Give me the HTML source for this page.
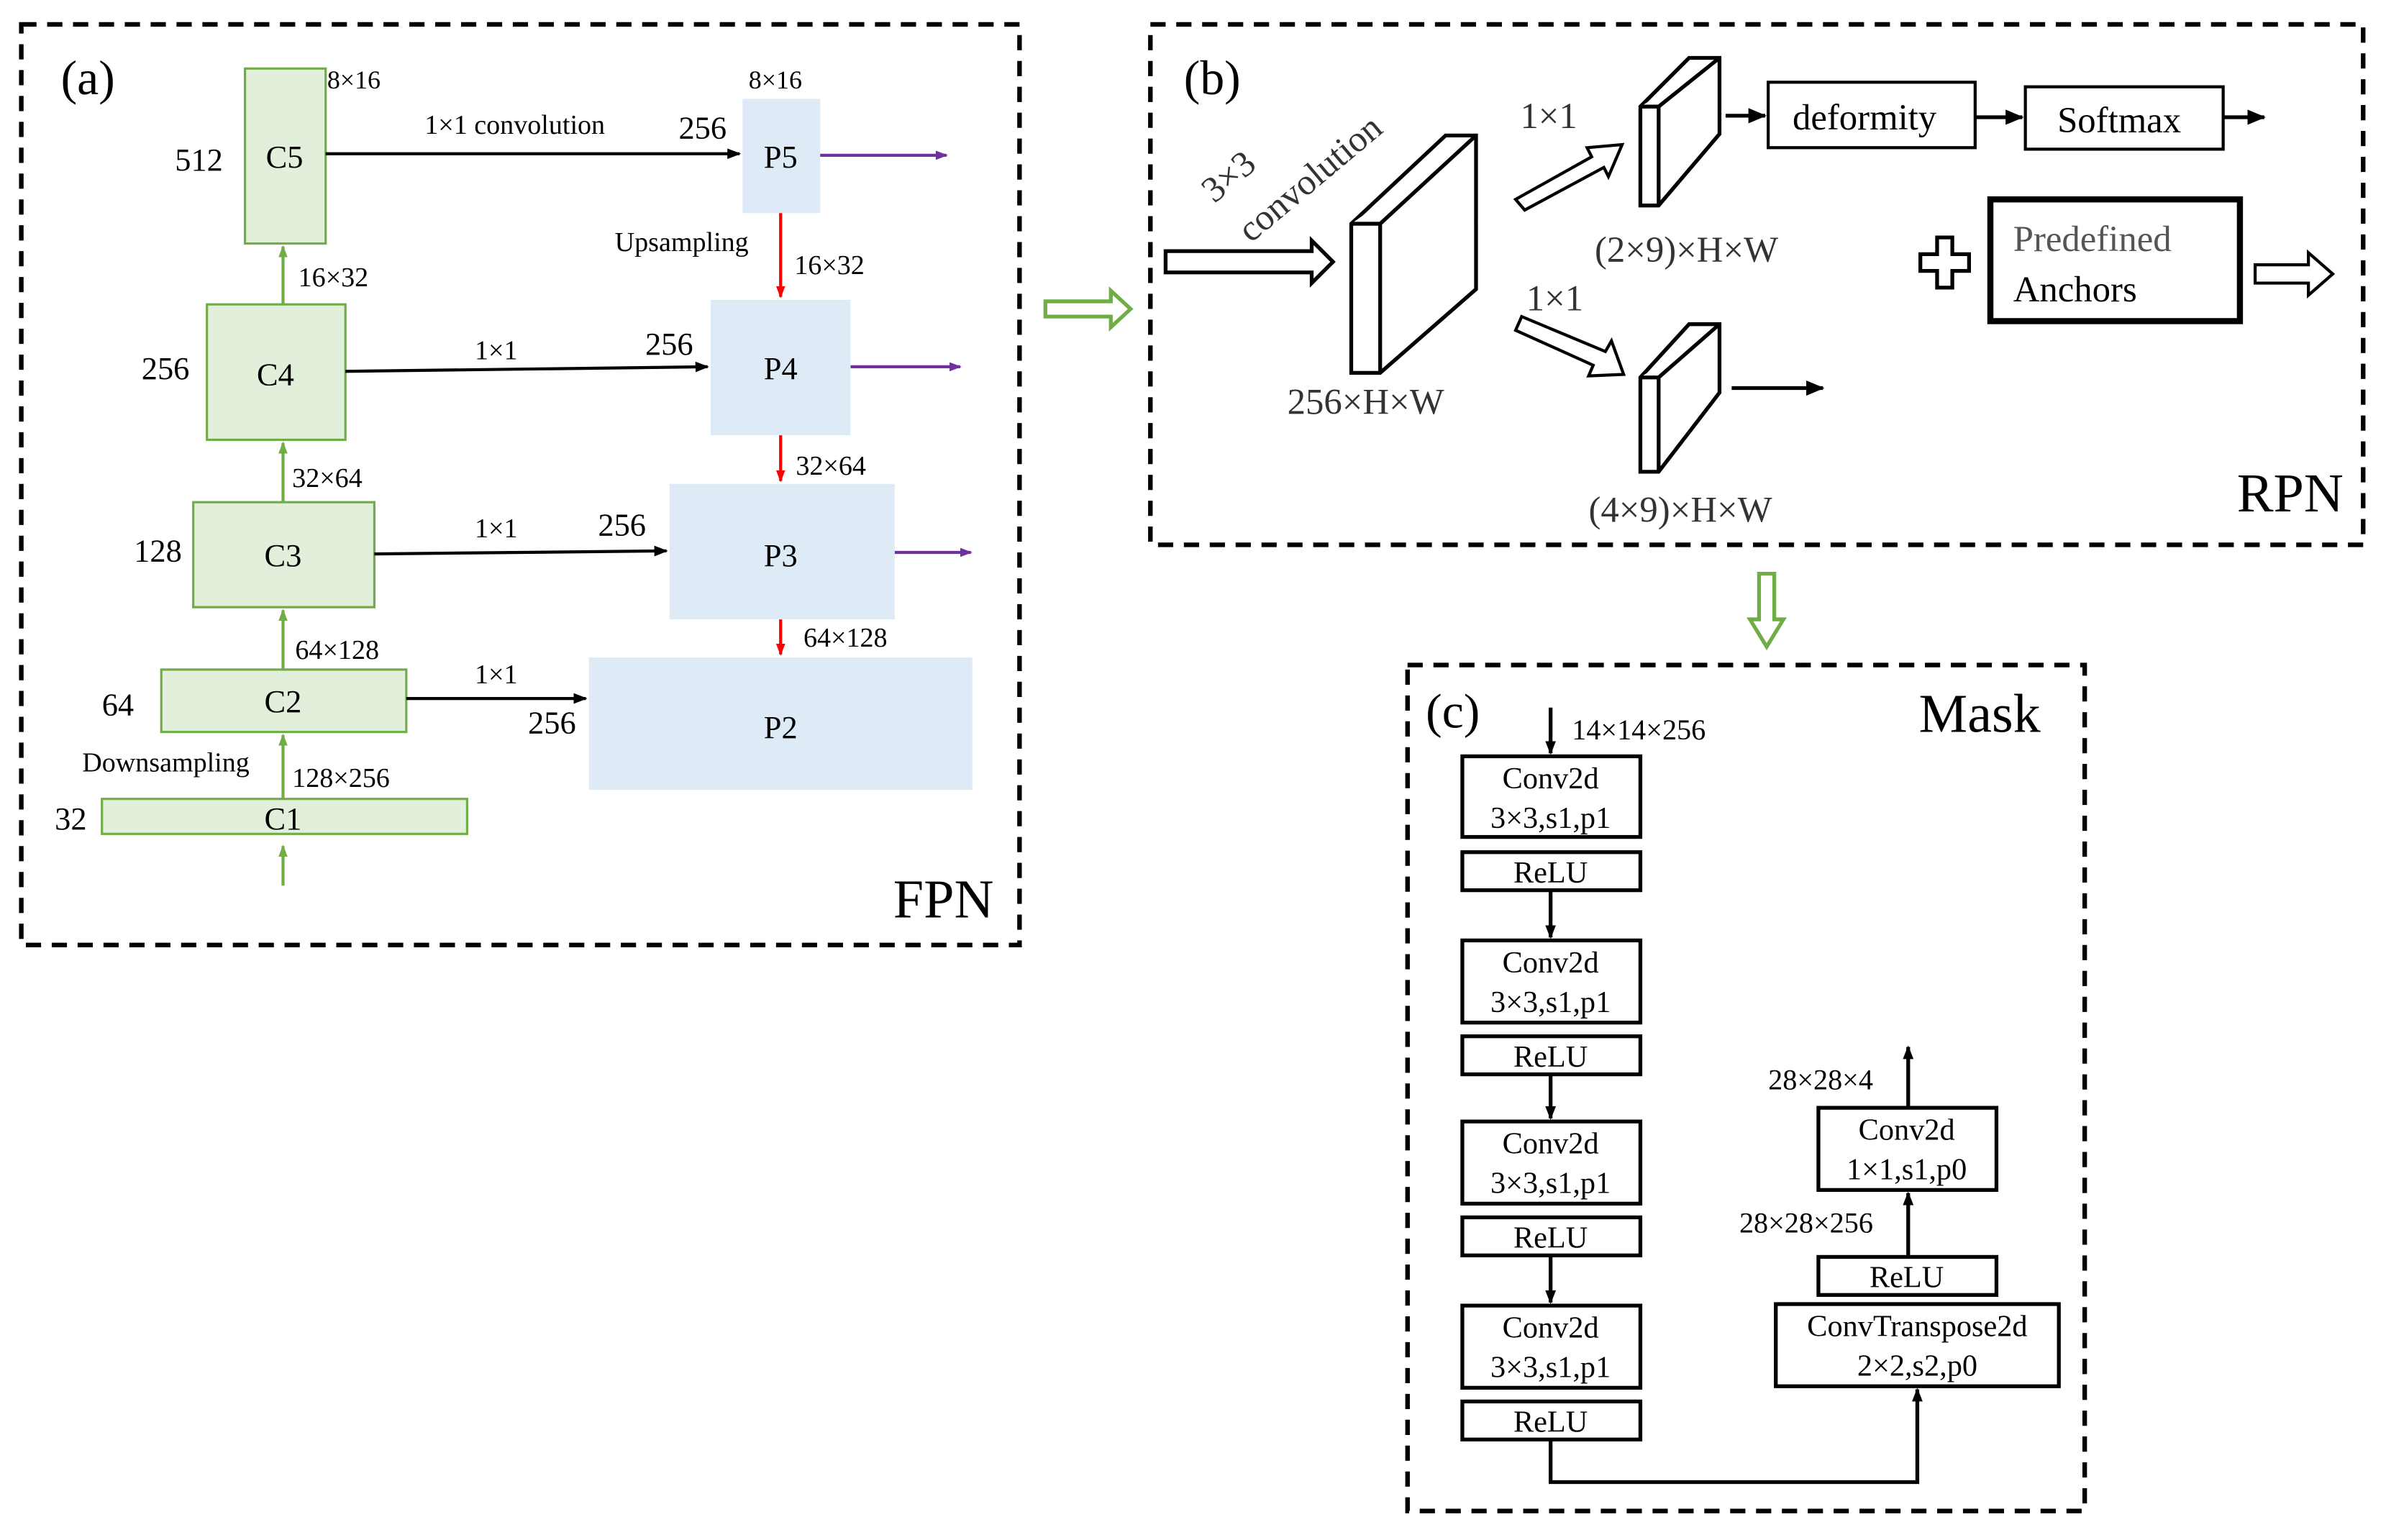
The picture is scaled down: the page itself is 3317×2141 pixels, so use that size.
<!DOCTYPE html>
<html><head><meta charset="utf-8"><style>html,body{margin:0;padding:0;background:#fff}svg{display:block}svg text{font-family:"Times New Roman","Liberation Serif",Times,serif !important}</style></head>
<body>
<svg width="3317" height="2141" viewBox="0 0 1568 1012" xmlns="http://www.w3.org/2000/svg">
<defs>
<marker id="ak" markerWidth="9" markerHeight="9" refX="8" refY="4.5" orient="auto" markerUnits="userSpaceOnUse"><path d="M0,1 L9,4.5 L0,8 z" fill="#000"/></marker>
<marker id="ar" markerWidth="8" markerHeight="8" refX="7" refY="4" orient="auto" markerUnits="userSpaceOnUse"><path d="M0,1 L8,4 L0,7 z" fill="#f00"/></marker>
<marker id="ag" markerWidth="8" markerHeight="8" refX="7" refY="4" orient="auto" markerUnits="userSpaceOnUse"><path d="M0,1 L8,4 L0,7 z" fill="#70ad47"/></marker>
<marker id="ap" markerWidth="8" markerHeight="8" refX="7" refY="4" orient="auto" markerUnits="userSpaceOnUse"><path d="M0,1 L8,4 L0,7 z" fill="#7030a0"/></marker>
<marker id="ab" markerWidth="12" markerHeight="12" refX="11" refY="6" orient="auto" markerUnits="userSpaceOnUse"><path d="M0,1 L12,6 L0,11 z" fill="#000"/></marker>
</defs>
<g fill="none" stroke="#000" stroke-width="3" stroke-dasharray="10,7">
<rect x="14" y="16" width="656" height="605"/>
<rect x="756" y="16" width="797" height="342"/>
<rect x="925" y="437" width="445" height="556"/>
</g>
<g fill="#e2efda" stroke="#70ad47" stroke-width="1.5">
<rect x="161" y="45" width="53" height="115"/>
<rect x="136" y="200" width="91" height="89"/>
<rect x="127" y="330" width="119" height="69"/>
<rect x="106" y="440" width="161" height="41"/>
<rect x="67" y="525" width="240" height="23"/>
</g>
<g fill="#deebf7">
<rect x="488" y="65" width="51" height="75"/>
<rect x="467" y="197" width="92" height="89"/>
<rect x="440" y="318" width="148" height="89"/>
<rect x="387" y="432" width="252" height="87"/>
</g>
<g stroke="#70ad47" stroke-width="2" marker-end="url(#ag)">
<line x1="186" y1="200" x2="186" y2="162"/>
<line x1="186" y1="330" x2="186" y2="291"/>
<line x1="186" y1="440" x2="186" y2="401"/>
<line x1="186" y1="525" x2="186" y2="483"/>
<line x1="186" y1="582" x2="186" y2="556"/>
</g>
<g stroke="#000" stroke-width="2" marker-end="url(#ak)">
<line x1="214" y1="101" x2="486" y2="101"/>
<line x1="227" y1="244" x2="465" y2="241"/>
<line x1="246" y1="364" x2="438" y2="362"/>
<line x1="267" y1="459" x2="385" y2="459"/>
</g>
<g stroke="#f00" stroke-width="2" marker-end="url(#ar)">
<line x1="513" y1="140" x2="513" y2="195"/>
<line x1="513" y1="286" x2="513" y2="316"/>
<line x1="513" y1="407" x2="513" y2="430"/>
</g>
<g stroke="#7030a0" stroke-width="2" marker-end="url(#ap)">
<line x1="539" y1="102" x2="622" y2="102"/>
<line x1="559" y1="241" x2="631" y2="241"/>
<line x1="588" y1="363" x2="638" y2="363"/>
</g>
<g font-size="21" fill="#000" text-anchor="middle">
<text x="187" y="110">C5</text><text x="181" y="253">C4</text><text x="186" y="372">C3</text>
<text x="186" y="468">C2</text><text x="186" y="545">C1</text>
<text x="513" y="110">P5</text><text x="513" y="249">P4</text><text x="513" y="372">P3</text><text x="513" y="485">P2</text>
</g>
<g font-size="18" fill="#000">
<text x="40" y="62" font-size="32">(a)</text>
<text x="587" y="603" font-size="36">FPN</text>
<text x="115" y="112" font-size="21">512</text><text x="93" y="249" font-size="21">256</text>
<text x="88" y="369" font-size="21">128</text><text x="67" y="470" font-size="21">64</text><text x="36" y="545" font-size="21">32</text>
<text x="215" y="58" font-size="17">8×16</text><text x="492" y="58" font-size="17">8×16</text>
<text x="279" y="88">1×1 convolution</text><text x="446" y="91" font-size="21">256</text>
<text x="196" y="188">16×32</text><text x="404" y="165">Upsampling</text><text x="522" y="180">16×32</text>
<text x="312" y="236">1×1</text><text x="424" y="233" font-size="21">256</text>
<text x="192" y="320">32×64</text><text x="523" y="312">32×64</text>
<text x="312" y="353">1×1</text><text x="393" y="352" font-size="21">256</text>
<text x="194" y="433">64×128</text><text x="528" y="425">64×128</text>
<text x="312" y="449">1×1</text><text x="347" y="482" font-size="21">256</text>
<text x="54" y="507">Downsampling</text><text x="192" y="517">128×256</text>
</g>
<g fill="#fff" stroke="#70ad47" stroke-width="2.5">
<path d="M687,198 L730,198 L730,191 L743,203 L730,215 L730,208 L687,208 z"/>
<path d="M1156,377 L1166,377 L1166,407 L1172,407 L1161,425 L1150,407 L1156,407 z"/>
</g>
<g fill="#fff" stroke="#000" stroke-width="2.5">
<path d="M766,165 L862,165 L862,158 L876,172 L862,186 L862,179 L766,179 z"/>
<path d="M888,147 L950,89 L970,89 L970,190 L907,245 L888,245 z"/>
<path d="M888,147 L907,147 L970,89"/>
<line x1="907" y1="147" x2="907" y2="245"/>
<path d="M1078,70 L1110,38 L1130,38 L1130,88 L1090,135 L1078,135 z"/>
<path d="M1078,70 L1090,70 L1130,38"/><line x1="1090" y1="70" x2="1090" y2="135"/>
<path d="M1078,248 L1110,213 L1130,213 L1130,258 L1090,310 L1078,310 z"/>
<path d="M1078,248 L1090,248 L1130,213"/><line x1="1090" y1="248" x2="1090" y2="310"/>
<path d="M996,131 L1046,103 L1043,97 L1066,95 L1057,116 L1054,110 L1002,138 z" stroke-width="2"/>
<path d="M996,217 L1047,240 L1044,247 L1067,246 L1059,224 L1055,231 L1000,208 z" stroke-width="2"/>
<rect x="1162" y="54" width="136" height="43" stroke-width="2"/>
<rect x="1331" y="57" width="130" height="41" stroke-width="2"/>
<rect x="1308" y="131" width="164" height="80" stroke-width="4"/>
<path d="M1273,156 L1283,156 L1283,167 L1294,167 L1294,178 L1283,178 L1283,189 L1273,189 L1273,178 L1262,178 L1262,167 L1273,167 z" stroke-width="2.5"/>
<path d="M1482,174 L1517,174 L1517,166 L1533,180 L1517,194 L1517,186 L1482,186 z" stroke-width="2"/>
</g>
<g stroke="#000" stroke-width="2.5" marker-end="url(#ab)">
<line x1="1134" y1="76" x2="1160" y2="76"/>
<line x1="1298" y1="77" x2="1329" y2="77"/>
<line x1="1461" y1="77" x2="1488" y2="77"/>
<line x1="1138" y1="255" x2="1198" y2="255"/>
</g>
<g fill="#000" font-size="24">
<text x="778" y="62" font-size="32">(b)</text>
<text x="1470" y="336" font-size="36">RPN</text>
<text x="1178" y="85">deformity</text>
<text x="1352" y="87">Softmax</text>
<text x="1323" y="165" fill="#555">Predefined</text>
<text x="1323" y="198">Anchors</text>
<text x="999" y="84" fill="#333">1×1</text>
<text x="1003" y="204" fill="#333">1×1</text>
<text x="846" y="272" fill="#333">256×H×W</text>
<text x="1048" y="172" fill="#333">(2×9)×H×W</text>
<text x="1044" y="343" fill="#333">(4×9)×H×W</text>
<text transform="translate(798,134) rotate(-40)" fill="#333">3×3</text>
<text transform="translate(822,160) rotate(-40)" fill="#333">convolution</text>
</g>
<g fill="#fff" stroke="#000" stroke-width="2.5">
<rect x="961" y="497" width="117" height="53"/><rect x="961" y="560" width="117" height="25"/>
<rect x="961" y="618" width="117" height="54"/><rect x="961" y="681" width="117" height="25"/>
<rect x="961" y="737" width="117" height="54"/><rect x="961" y="800" width="117" height="25"/>
<rect x="961" y="858" width="117" height="54"/><rect x="961" y="921" width="117" height="25"/>
<rect x="1167" y="857" width="186" height="54"/><rect x="1195" y="826" width="117" height="25"/>
<rect x="1195" y="728" width="117" height="54"/>
</g>
<g stroke="#000" stroke-width="2.5" fill="none" marker-end="url(#ak)">
<line x1="1019" y1="465" x2="1019" y2="495"/>
<line x1="1019" y1="585" x2="1019" y2="616"/>
<line x1="1019" y1="706" x2="1019" y2="735"/>
<line x1="1019" y1="825" x2="1019" y2="856"/>
<path d="M1019,946 L1019,974 L1260,974 L1260,913"/>
<line x1="1254" y1="826" x2="1254" y2="784"/>
<line x1="1254" y1="728" x2="1254" y2="688"/>
</g>
<g fill="#000" font-size="20" text-anchor="middle">
<text x="1019" y="518">Conv2d</text><text x="1019" y="544">3×3,s1,p1</text><text x="1019" y="580">ReLU</text>
<text x="1019" y="639">Conv2d</text><text x="1019" y="665">3×3,s1,p1</text><text x="1019" y="701">ReLU</text>
<text x="1019" y="758">Conv2d</text><text x="1019" y="784">3×3,s1,p1</text><text x="1019" y="820">ReLU</text>
<text x="1019" y="879">Conv2d</text><text x="1019" y="905">3×3,s1,p1</text><text x="1019" y="941">ReLU</text>
<text x="1260" y="878">ConvTranspose2d</text><text x="1260" y="904">2×2,s2,p0</text>
<text x="1253" y="846">ReLU</text>
<text x="1253" y="749">Conv2d</text><text x="1253" y="775">1×1,s1,p0</text>
</g>
<g fill="#000" font-size="19">
<text x="1033" y="486">14×14×256</text>
<text x="1162" y="716">28×28×4</text>
<text x="1143" y="810">28×28×256</text>
<text x="937" y="478" font-size="32">(c)</text>
<text x="1261" y="481" font-size="36">Mask</text>
</g>
</svg>
</body></html>
